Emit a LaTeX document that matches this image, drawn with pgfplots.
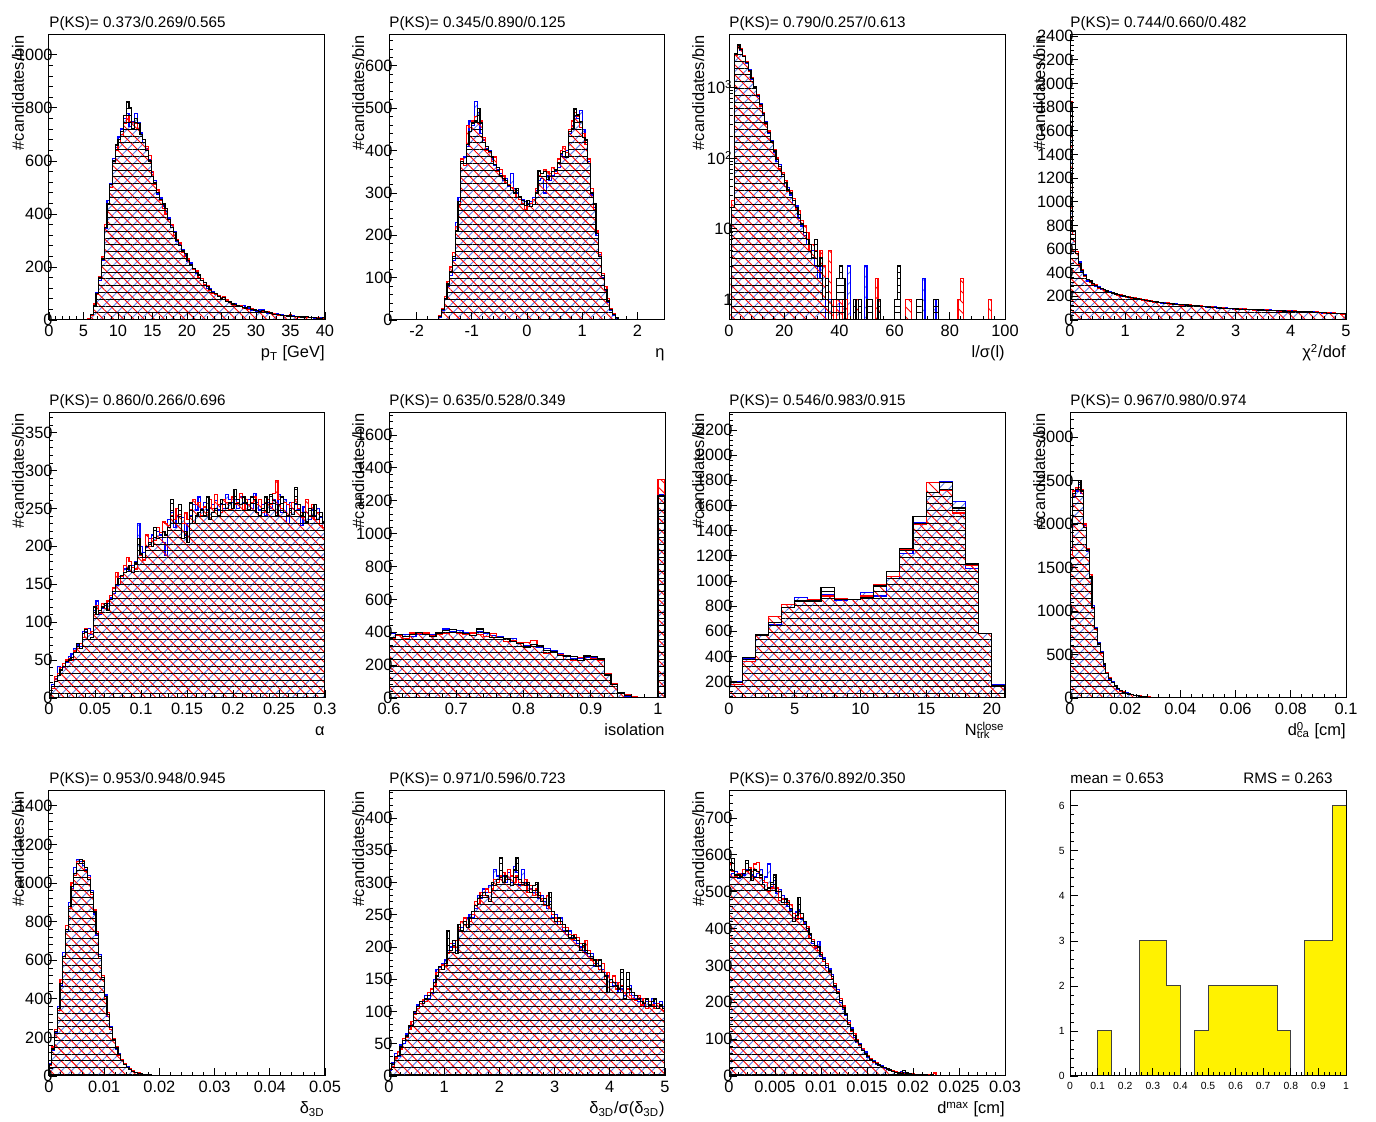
\documentclass[border=0pt]{standalone}
\usepackage{fontspec}
\setmainfont{Liberation Sans}
\usepackage{pgfplots}
\pgfplotsset{compat=1.18}
\usepackage{pgfplotstable}
\usetikzlibrary{patterns.meta}

\newcommand\tfont{\fontsize{7.6}{9}\selectfont}
\newcommand\lfont{\fontsize{8.2}{9.8}\selectfont}
\newcommand\sfont{\fontsize{5.2}{6}\selectfont}
\definecolor{hatchblue}{RGB}{95,125,235}

\pgfplotsset{
  panel/.style={
    scale only axis, width=138pt, height=142.5pt, anchor=south west,
    axis line style={line width=0.5pt},
    tick align=inside, tick pos=left,
    major tick length=4pt, minor tick length=2pt,
    minor x tick num=4, minor y tick num=4,
    every tick/.style={black, line width=0.4pt},
    scaled ticks=false,
    /pgf/number format/assume math mode=true,
    /pgf/number format/1000 sep={},
    ticklabel style={font=\lfont},
    xticklabel style={inner sep=0pt, yshift=-2.5pt,
      /pgf/number format/fixed, /pgf/number format/precision=3},
    yticklabel style={inner sep=0pt, anchor=east, xshift=2pt},
    axis on top,
  },
  hb/.style={const plot, draw=blue, line width=0.6pt,
    pattern={Lines[angle=45,distance=3.6pt,line width=0.45pt]}, pattern color=hatchblue},
  hr/.style={const plot, draw=red, line width=0.6pt,
    pattern={Lines[angle=-45,distance=3.6pt,line width=0.45pt]}, pattern color=red},
  hk/.style={const plot, draw=black, line width=0.6pt,
    pattern={Lines[angle=0,distance=3.4pt,line width=0.45pt]}, pattern color=black},
}
\tikzset{tit/.style={font=\tfont, inner sep=0pt}, lab/.style={font=\lfont, inner sep=0pt}}

% title, x label and y label of one panel
\newcommand\decor[3]{%
  \node[tit, anchor=base west] at ([yshift=3.5pt]#1.north west) {#2};
  \node[lab, anchor=base east] at ([yshift=-19pt]#1.south east) {#3};
  \node[lab, rotate=90, anchor=base east] at ([xshift=-12.5pt]#1.north west) {\#candidates/bin};
}
% three overlaid histograms: blue, red, black
\newcommand\threehists[1]{%
  \addplot[hb] table[x=x,y=b] {#1} \closedcycle;
  \addplot[hr] table[x=x,y=r] {#1} \closedcycle;
  \addplot[hk] table[x=x,y=k] {#1} \closedcycle;
}

% p_T
\pgfplotstableread{
x k r b
0 0 0 0
5.6 3 4 2
6.0 20 18 22
6.4 55 60 50
6.8 100 95 105
7.2 160 165 150
7.6 230 240 225
8.0 350 360 345
8.4 440 440 450
8.8 510 500 515
9.2 600 590 610
9.6 660 640 650
10.0 680 670 690
10.4 710 700 720
10.8 770 740 760
11.2 825 770 780
11.6 800 750 730
12.0 720 745 750
12.4 760 740 780
12.8 740 720 745
13.2 700 700 705
13.6 680 680 670
14.0 640 655 645
14.4 600 620 605
14.8 540 560 555
15.2 520 510 525
15.6 480 490 475
16.0 455 450 460
16.4 440 420 430
16.8 420 400 410
17.2 380 380 385
17.6 350 360 355
18.0 330 320 335
18.4 300 305 295
18.8 280 290 285
19.2 260 255 265
19.6 250 240 245
20.0 225 230 220
20.4 210 205 215
20.8 195 190 190
21.2 180 185 175
21.6 170 160 168
22.0 150 155 148
22.4 140 135 142
22.8 125 130 120
23.2 115 110 118
23.6 105 100 108
24.0 100 95 97
24.4 90 92 88
24.8 82 85 80
25.2 85 90 78
25.6 70 75 72
26.0 68 65 70
26.4 60 62 58
26.8 58 55 62
27.2 55 50 52
27.6 52 55 50
28.0 48 45 55
28.4 45 42 44
28.8 50 40 45
29.2 40 42 38
29.6 38 35 40
30.0 35 36 33
30.4 32 30 38
30.8 36 32 40
31.2 30 28 32
31.6 28 30 26
32.0 26 25 24
32.4 22 24 22
32.8 20 21 23
33.2 21 19 20
33.6 18 17 19
34.0 17 18 16
34.4 15 16 17
34.8 18 20 15
35.2 14 13 16
35.6 13 14 12
36.0 12 11 13
36.4 11 12 10
36.8 10 9 11
37.2 12 10 9
37.6 9 10 8
38.0 8 9 10
38.4 9 8 7
38.8 7 8 6
39.2 6 7 8
39.6 8 6 7
40.0 8 6 7
}\tA

% eta
\pgfplotstableread{
x k r b
-2.5 0 0 0
-1.65 2 1 2
-1.6 8 10 6
-1.55 25 28 22
-1.5 50 55 48
-1.45 85 90 80
-1.4 115 125 105
-1.35 150 160 140
-1.3 210 220 230
-1.25 280 270 290
-1.2 375 380 370
-1.15 370 365 385
-1.1 415 460 410
-1.05 445 455 470
-1.0 465 470 460
-0.95 470 480 515
-0.9 500 465 490
-0.85 465 470 440
-0.8 420 430 425
-0.75 410 400 405
-0.7 398 395 400
-0.65 385 375 380
-0.6 368 385 365
-0.55 360 350 355
-0.5 342 355 345
-0.45 335 340 330
-0.4 330 325 335
-0.35 318 320 315
-0.3 305 312 345
-0.25 300 305 310
-0.2 310 290 300
-0.15 292 285 290
-0.1 283 275 285
-0.05 270 260 280
0.0 282 268 275
0.05 268 275 280
0.1 272 285 290
0.15 300 310 305
0.2 352 340 330
0.25 346 345 335
0.3 350 355 300
0.35 332 350 340
0.4 338 345 330
0.45 350 360 340
0.5 354 345 350
0.55 372 380 360
0.6 393 400 390
0.65 398 410 385
0.7 385 395 400
0.75 445 450 440
0.8 452 470 460
0.85 498 490 480
0.9 484 480 475
0.95 468 455 495
1.0 430 440 450
1.05 425 415 420
1.1 370 380 375
1.15 300 310 295
1.2 275 260 265
1.25 205 210 200
1.3 150 160 155
1.35 105 110 100
1.4 72 80 70
1.45 45 50 42
1.5 25 28 22
1.55 12 15 10
1.6 5 6 4
1.65 2 2 1
1.7 0 0 0
2.5 0 0 0
}\tB

% l/sigma(l), empty bins kept below the log axis floor
\pgfplotstableread{
x k r b
0 0.1 2 0.1
1 20 25 20
2 3000 2800 2900
3 3900 3700 3800
4 3400 3500 3300
5 2700 2750 2800
6 2200 2250 2150
7 1700 1650 1750
8 1300 1350 1280
9 1000 980 1020
10 750 770 730
11 560 540 580
12 420 440 410
13 310 300 320
14 230 240 220
15 170 165 175
16 125 130 120
17 95 100 90
18 75 70 80
19 58 62 55
20 45 48 40
21 36 34 38
22 32 35 30
23 25 27 22
24 20 19 21
25 16 18 14
26 12 13 11
27 9 11 8
28 7 9 6
29 6 5 5
30 4 6 5
31 7 5 3
32 3 3 2
33 4 5 3
34 1 3 3
35 2 1 0.1
36 0.1 5 1
37 1 1 0.1
38 1 0.1 0.1
39 2 1 1
40 3 1 0.1
41 2 0.1 1
42 0.1 1 0.1
43 0.1 0.1 3
44 0.1 0.1 0.1
45 1 0.1 0.1
46 0.1 1 0.1
47 1 0.1 0.1
48 0.1 0.1 0.1
49 0.1 0.1 3
50 1 0.1 0.1
52 0.1 0.1 0.1
53 0.1 2 0.1
54 1 1 0.1
55 0.1 0.1 0.1
60 1 0.1 0.1
61 3 0.1 0.1
62 0.1 0.1 0.1
64 0.1 1 0.1
66 0.1 0.1 0.1
68 1 0.1 0.1
70 0.1 0.1 2
71 0.1 0.1 0.1
74 1 0.1 1
75 1 0.1 0.1
76 0.1 0.1 0.1
83 0.1 1 0.1
84 0.1 2 0.1
85 0.1 0.1 0.1
94 0.1 1 0.1
95 0.1 0.1 0.1
100 0.1 0.1 0.1
}\tC

% chi2/dof
\pgfplotstableread{
x k r b
0 1830 1850 1800
0.05 760 720 745
0.1 560 580 565
0.15 475 470 490
0.2 420 425 410
0.25 375 365 380
0.3 345 340 330
0.35 330 320 335
0.4 306 300 295
0.45 290 295 285
0.5 277 270 280
0.55 265 268 260
0.6 255 250 258
0.65 245 248 240
0.7 235 230 238
0.75 228 235 225
0.8 220 225 218
0.85 213 210 215
0.9 207 212 203
0.95 202 198 205
1.0 198 195 200
1.05 193 196 190
1.1 188 185 191
1.15 183 186 180
1.2 178 176 182
1.25 174 178 171
1.3 170 167 172
1.35 166 170 164
1.4 162 160 165
1.45 158 162 156
1.5 155 152 158
1.55 152 155 149
1.6 148 146 151
1.65 145 148 143
1.7 142 140 145
1.75 140 143 137
1.8 137 135 140
1.85 135 138 132
1.9 133 130 135
1.95 131 134 129
2.0 130 127 132
2.05 128 131 125
2.1 126 124 129
2.15 124 128 122
2.2 125 121 124
2.25 122 125 119
2.3 118 116 121
2.35 116 119 114
2.4 114 112 117
2.45 112 115 110
2.5 110 108 113
2.55 108 111 106
2.6 106 104 109
2.65 104 107 102
2.7 102 100 105
2.75 100 103 98
2.8 99 96 101
2.85 97 100 95
2.9 96 94 99
2.95 94 97 92
3.0 93 91 96
3.05 92 95 90
3.1 91 89 94
3.15 90 93 88
3.2 89 87 91
3.25 88 91 86
3.3 87 85 89
3.35 86 89 84
3.4 85 83 88
3.45 84 87 82
3.5 83 81 86
3.55 82 85 80
3.6 81 79 84
3.65 80 83 78
3.7 79 77 82
3.75 78 81 76
3.8 77 75 80
3.85 76 79 74
3.9 75 73 78
3.95 75 78 72
4.0 74 72 77
4.05 73 76 71
4.1 72 70 75
4.15 71 74 69
4.2 70 68 73
4.25 69 72 67
4.3 68 66 71
4.35 67 70 65
4.4 65 63 68
4.45 64 67 62
4.5 62 60 65
4.55 61 64 59
4.6 60 58 63
4.65 58 61 56
4.7 57 55 60
4.75 56 59 54
4.8 55 53 58
4.85 54 57 52
4.9 53 51 56
4.95 52 50 55
5.0 52 50 55
}\tD

% alpha
\pgfplotstableread{
x k r b
0.000 5 4 6
0.003 15 12 18
0.006 22 28 25
0.009 30 32 42
0.012 37 40 38
0.015 42 45 40
0.018 48 50 47
0.021 50 52 55
0.024 53 50 58
0.027 60 62 65
0.030 72 65 70
0.033 65 72 68
0.036 85 80 88
0.039 90 92 88
0.042 77 85 92
0.045 80 88 84
0.048 120 110 115
0.051 110 122 128
0.054 115 112 110
0.057 120 125 118
0.060 125 118 122
0.063 115 128 125
0.066 130 135 132
0.069 140 145 138
0.072 150 165 148
0.075 158 150 160
0.078 162 160 158
0.081 165 175 170
0.084 170 185 172
0.087 175 180 168
0.090 165 172 175
0.093 178 170 180
0.096 210 195 230
0.099 190 188 200
0.102 185 182 192
0.105 200 215 198
0.108 205 200 210
0.111 200 210 215
0.114 225 208 212
0.117 210 225 220
0.120 212 218 215
0.123 220 232 205
0.126 215 230 188
0.129 225 228 235
0.132 262 240 245
0.135 230 235 225
0.138 230 250 240
0.141 255 242 230
0.144 210 230 238
0.147 220 245 215
0.150 205 235 230
0.153 258 248 240
0.156 230 262 255
0.159 240 255 248
0.162 245 258 265
0.165 248 240 250
0.168 240 252 258
0.171 265 245 248
0.174 235 262 250
0.177 245 250 255
0.180 250 268 260
0.183 240 255 248
0.186 262 245 255
0.189 255 262 250
0.192 250 258 268
0.195 258 248 262
0.198 250 265 258
0.201 275 255 262
0.204 262 258 250
0.207 255 270 265
0.210 265 248 258
0.213 258 262 255
0.216 248 255 262
0.219 265 258 250
0.222 262 265 270
0.225 245 255 258
0.228 240 262 248
0.231 250 245 255
0.234 265 258 240
0.237 245 262 258
0.240 268 255 250
0.243 260 270 262
0.246 240 287 255
0.249 255 262 268
0.252 265 250 245
0.255 245 258 262
0.258 240 255 230
0.261 250 245 258
0.264 242 258 250
0.267 278 262 255
0.270 255 250 248
0.273 240 245 228
0.276 245 238 252
0.279 232 262 245
0.282 250 240 235
0.285 240 255 248
0.288 255 235 240
0.291 235 245 250
0.294 245 228 238
0.297 232 225 230
0.300 232 225 230
}\tE

% isolation
\pgfplotstableread{
x k r b
0.60 370 360 390
0.61 385 380 380
0.62 375 360 385
0.63 385 395 375
0.64 400 390 385
0.65 385 395 390
0.66 375 380 385
0.67 395 385 400
0.68 410 395 420
0.69 415 400 405
0.70 400 395 410
0.71 390 385 395
0.72 380 395 390
0.73 420 385 405
0.74 400 375 395
0.75 370 390 380
0.76 370 370 375
0.77 360 345 360
0.78 345 350 360
0.79 330 335 340
0.80 310 340 320
0.81 325 350 315
0.82 320 315 305
0.83 290 270 300
0.84 280 285 290
0.85 260 265 270
0.86 255 235 250
0.87 250 230 240
0.88 230 245 240
0.89 255 250 245
0.90 250 240 245
0.91 240 230 235
0.92 140 150 145
0.93 80 90 85
0.94 30 25 35
0.95 15 20 12
0.96 5 8 3
0.97 0 0 0
1.00 1230 1330 1235
1.01 1230 1330 1235
}\tF

% N_trk close
\pgfplotstableread{
x k r b
0 190 180 200
1 390 360 380
2 570 570 570
3 670 720 650
4 790 810 810
5 840 840 870
6 840 850 840
7 945 880 890
8 850 860 845
9 855 855 855
10 870 880 910
11 960 970 880
12 1075 1035 1020
13 1260 1250 1220
14 1510 1450 1460
15 1700 1780 1700
16 1780 1720 1790
17 1580 1540 1630
18 1140 1120 1100
19 580 580 580
20 170 165 175
21 170 165 175
}\tG

% d0_ca
\pgfplotstableread{
x k r b
0 1730 1650 1700
0.001 2350 2380 2300
0.002 2400 2420 2380
0.003 2500 2420 2450
0.004 2380 2400 2350
0.005 1960 2000 1980
0.006 1700 1720 1680
0.007 1390 1420 1400
0.008 1040 1030 1060
0.009 800 790 810
0.010 620 630 640
0.011 520 510 530
0.012 390 400 380
0.013 285 290 280
0.014 220 230 215
0.015 180 175 185
0.016 140 145 135
0.017 105 110 100
0.018 85 80 88
0.019 65 70 62
0.020 55 52 58
0.021 46 48 44
0.022 38 40 36
0.023 30 32 28
0.024 25 24 27
0.025 20 22 18
0.026 16 18 15
0.027 13 12 14
0.028 10 11 9
0.029 8 9 7
0.030 6 7 6
0.031 5 5 4
0.032 4 5 4
0.033 3 4 3
0.034 3 2 3
0.035 2 3 2
0.036 2 2 1
0.037 1 2 1
0.038 1 1 1
0.039 1 1 0
0.040 0 1 0
0.041 0 0 0
0.100 0 0 0
}\tH

% delta_3D
\pgfplotstableread{
x k r b
0 60 55 65
0.0005 140 150 135
0.001 230 240 225
0.0015 350 340 360
0.002 480 500 470
0.0025 620 610 640
0.003 760 780 750
0.0035 880 870 900
0.004 980 1000 970
0.0045 1050 1040 1080
0.005 1100 1110 1120
0.0055 1120 1100 1110
0.006 1110 1115 1090
0.0065 1080 1060 1070
0.007 1020 1030 1040
0.0075 950 940 960
0.008 850 860 840
0.0085 740 750 730
0.009 620 610 630
0.0095 510 520 500
0.01 410 400 420
0.0105 320 330 310
0.011 250 240 255
0.0115 190 195 185
0.012 145 150 140
0.0125 110 105 115
0.013 82 85 80
0.0135 60 62 58
0.014 45 44 47
0.0145 34 36 32
0.015 25 26 24
0.0155 19 18 20
0.016 14 15 13
0.0165 11 10 12
0.017 8 9 8
0.0175 6 7 5
0.018 5 5 6
0.0185 4 3 4
0.019 3 4 3
0.0195 3 2 3
0.02 2 3 2
0.0205 2 2 1
0.021 2 1 2
0.0215 1 2 1
0.022 1 1 1
0.024 1 0 1
0.025 0 1 0
0.026 0 0 0
0.05 0 0 0
}\tI

% delta_3D / sigma
\pgfplotstableread{
x k r b
0 10 12 8
0.05 18 15 20
0.1 30 28 35
0.15 32 38 30
0.2 45 42 48
0.25 55 58 50
0.3 62 60 65
0.35 78 72 75
0.4 78 85 80
0.45 100 95 98
0.5 108 105 110
0.55 115 112 108
0.6 112 118 115
0.65 120 115 125
0.7 125 130 120
0.75 130 135 128
0.8 145 140 150
0.85 155 160 165
0.9 170 165 168
0.95 165 172 175
1.0 175 170 180
1.05 225 190 195
1.1 195 205 200
1.15 210 200 205
1.2 190 210 195
1.25 235 230 225
1.3 225 240 230
1.35 240 245 235
1.4 230 235 245
1.45 245 240 250
1.5 255 250 245
1.55 265 270 260
1.6 275 268 280
1.65 280 285 275
1.7 285 280 290
1.75 280 290 285
1.8 270 285 295
1.85 300 290 295
1.9 295 305 320
1.95 305 300 310
2.0 338 310 305
2.05 300 315 310
2.1 310 305 300
2.15 305 320 315
2.2 295 310 300
2.25 320 300 325
2.3 338 310 315
2.35 305 300 295
2.4 300 295 320
2.45 295 305 300
2.5 300 285 295
2.55 285 295 290
2.6 295 280 285
2.65 300 290 285
2.7 280 285 275
2.75 270 275 280
2.8 275 265 270
2.85 265 280 260
2.9 285 260 270
2.95 255 250 245
3.0 240 245 250
3.05 245 240 235
3.1 240 235 245
3.15 235 230 225
3.2 225 230 220
3.25 215 220 225
3.3 218 212 215
3.35 215 220 210
3.4 210 215 205
3.45 195 205 200
3.5 205 200 195
3.55 195 210 190
3.6 190 195 185
3.65 185 180 190
3.7 180 175 170
3.75 170 180 175
3.8 180 165 170
3.85 160 175 165
3.9 155 150 160
3.95 130 160 155
4.0 150 145 150
4.05 145 155 140
4.1 140 135 145
4.15 135 145 130
4.2 165 140 135
4.25 120 130 125
4.3 160 135 130
4.35 135 125 140
4.4 130 120 125
4.45 125 118 120
4.5 120 125 115
4.55 115 110 120
4.6 112 120 110
4.65 120 105 115
4.7 110 115 108
4.75 115 110 120
4.8 120 105 112
4.85 105 112 108
4.9 110 108 115
4.95 105 102 108
5.0 105 102 108
}\tJ

% d_max
\pgfplotstableread{
x k r b
0 560 575 540
0.0003 590 555 550
0.0006 545 540 555
0.0009 545 550 535
0.0012 540 545 550
0.0015 550 560 545
0.0018 585 555 560
0.0021 560 565 550
0.0024 530 555 545
0.0027 560 575 540
0.003 555 580 550
0.0033 545 535 560
0.0036 520 530 525
0.0039 505 525 540
0.0042 510 500 575
0.0045 525 510 515
0.0048 545 520 530
0.0051 500 510 495
0.0054 500 475 505
0.0057 470 480 490
0.006 480 465 470
0.0063 470 475 460
0.0066 455 465 450
0.0069 420 440 430
0.0072 435 425 445
0.0075 485 440 450
0.0078 440 430 425
0.0081 420 410 415
0.0084 400 405 395
0.0087 385 375 380
0.009 365 370 360
0.0093 355 350 345
0.0096 350 340 365
0.0099 330 335 325
0.0102 315 310 320
0.0105 300 305 295
0.0108 285 280 290
0.0111 270 265 275
0.0114 245 250 240
0.0117 225 230 235
0.012 205 210 200
0.0123 185 190 180
0.0126 168 170 165
0.0129 140 145 150
0.0132 125 120 130
0.0135 110 115 105
0.0138 95 100 92
0.0141 85 82 88
0.0144 70 75 72
0.0147 62 60 65
0.015 52 55 50
0.0153 45 48 44
0.0156 40 38 42
0.0159 34 36 32
0.0162 30 28 31
0.0165 26 25 27
0.0168 22 24 20
0.0171 19 18 21
0.0174 16 17 15
0.0177 13 15 12
0.018 10 12 11
0.0183 8 9 10
0.0186 7 8 12
0.0189 15 7 9
0.0192 8 6 7
0.0195 6 5 6
0.0198 5 6 4
0.0201 5 4 5
0.0204 4 5 3
0.0207 4 3 4
0.021 3 4 3
0.0213 3 2 3
0.0216 2 3 2
0.0219 3 2 2
0.0222 2 8 1
0.0225 2 2 2
0.0228 1 1 2
0.0231 2 1 1
0.0234 1 2 1
0.0237 1 1 1
0.0255 0 1 0
0.027 0 0 0
0.03 0 0 0
}\tK

% KS probabilities
\pgfplotstableread{
x y
0 0
0.1 1
0.15 0
0.25 3
0.35 2
0.4 0
0.45 1
0.5 2
0.75 1
0.8 0
0.85 3
0.95 6
1.0 6
}\tL

\begin{document}
\begin{tikzpicture}
\useasboundingbox (0,0) rectangle (688pt,561pt);

% ---- row 1
\begin{axis}[panel, name=a1, at={(24.5pt,401pt)},
  xmin=0, xmax=40, ymin=0, ymax=1075, xtick distance=5, ytick distance=200]
\threehists{\tA}
\end{axis}
\decor{a1}{P(KS)= 0.373/0.269/0.565}{p\textsubscript{T} [GeV]}

\begin{axis}[panel, name=a2, at={(194.5pt,401pt)},
  xmin=-2.5, xmax=2.5, ymin=0, ymax=673, xtick={-2,-1,0,1,2}, ytick distance=100]
\threehists{\tB}
\end{axis}
\decor{a2}{P(KS)= 0.345/0.890/0.125}{η}

\begin{axis}[panel, name=a3, at={(364.5pt,401pt)},
  xmin=0, xmax=100, ymode=log, log origin y=infty, ymin=0.52, ymax=5400,
  xtick distance=20, ytick={1,10,100,1000},
  yticklabels={1,10,10\textsuperscript{2},10\textsuperscript{3}}]
\threehists{\tC}
\end{axis}
\decor{a3}{P(KS)= 0.790/0.257/0.613}{l/σ(l)}

\begin{axis}[panel, name=a4, at={(535pt,401pt)},
  xmin=0, xmax=5, ymin=0, ymax=2410, xtick distance=1, ytick distance=200]
\threehists{\tD}
\end{axis}
\decor{a4}{P(KS)= 0.744/0.660/0.482}{χ\textsuperscript{2}/dof}

% ---- row 2
\begin{axis}[panel, name=b1, at={(24.5pt,212pt)},
  xmin=0, xmax=0.3, ymin=0, ymax=376, xtick distance=0.05, ytick distance=50]
\threehists{\tE}
\end{axis}
\decor{b1}{P(KS)= 0.860/0.266/0.696}{α}

\begin{axis}[panel, name=b2, at={(194.5pt,212pt)},
  xmin=0.6, xmax=1.0104, ymin=0, ymax=1734, xtick={0.6,0.7,0.8,0.9,1}, ytick distance=200]
\threehists{\tF}
\end{axis}
\decor{b2}{P(KS)= 0.635/0.528/0.349}{isolation}

\begin{axis}[panel, name=b3, at={(364.5pt,212pt)},
  xmin=0, xmax=21, ymin=70, ymax=2335, xtick distance=5, ytick distance=200]
\threehists{\tG}
\end{axis}
\decor{b3}{P(KS)= 0.546/0.983/0.915}{N\rlap{\textsubscript{trk}}\textsuperscript{close}}

\begin{axis}[panel, name=b4, at={(535pt,212pt)},
  xmin=0, xmax=0.1, ymin=0, ymax=3276, xtick distance=0.02, ytick distance=500]
\threehists{\tH}
\end{axis}
\decor{b4}{P(KS)= 0.967/0.980/0.974}{d\rlap{\textsuperscript{0}}\textsubscript{ca} [cm]}

% ---- row 3
\begin{axis}[panel, name=c1, at={(24.5pt,23pt)},
  xmin=0, xmax=0.05, ymin=0, ymax=1477, xtick distance=0.01, ytick distance=200]
\threehists{\tI}
\end{axis}
\decor{c1}{P(KS)= 0.953/0.948/0.945}{δ\textsubscript{3D}}

\begin{axis}[panel, name=c2, at={(194.5pt,23pt)},
  xmin=0, xmax=5, ymin=0, ymax=442, xtick distance=1, ytick distance=50]
\threehists{\tJ}
\end{axis}
\decor{c2}{P(KS)= 0.971/0.596/0.723}{δ\textsubscript{3D}/σ(δ\textsubscript{3D})}

\begin{axis}[panel, name=c3, at={(364.5pt,23pt)},
  xmin=0, xmax=0.03, ymin=0, ymax=773, xtick distance=0.005, ytick distance=100]
\threehists{\tK}
\end{axis}
\decor{c3}{P(KS)= 0.376/0.892/0.350}{d\textsuperscript{max} [cm]}

\begin{axis}[panel, name=c4, at={(535pt,23pt)},
  xmin=0, xmax=1, ymin=0, ymax=6.33, xtick distance=0.1, ytick distance=1,
  ticklabel style={font=\sfont},
  yticklabel style={xshift=-4.5pt}, xticklabel style={yshift=-0.5pt}]
\addplot[const plot, fill=yellow, draw=black!75, line width=0.5pt] table[x=x,y=y] {\tL} \closedcycle;
\end{axis}
\node[tit, anchor=base west] at ([yshift=3.5pt]c4.north west) {mean = 0.653};
\node[tit, anchor=base east] at ([yshift=3.5pt,xshift=-6.5pt]c4.north east) {RMS = 0.263};
\end{tikzpicture}
\end{document}
